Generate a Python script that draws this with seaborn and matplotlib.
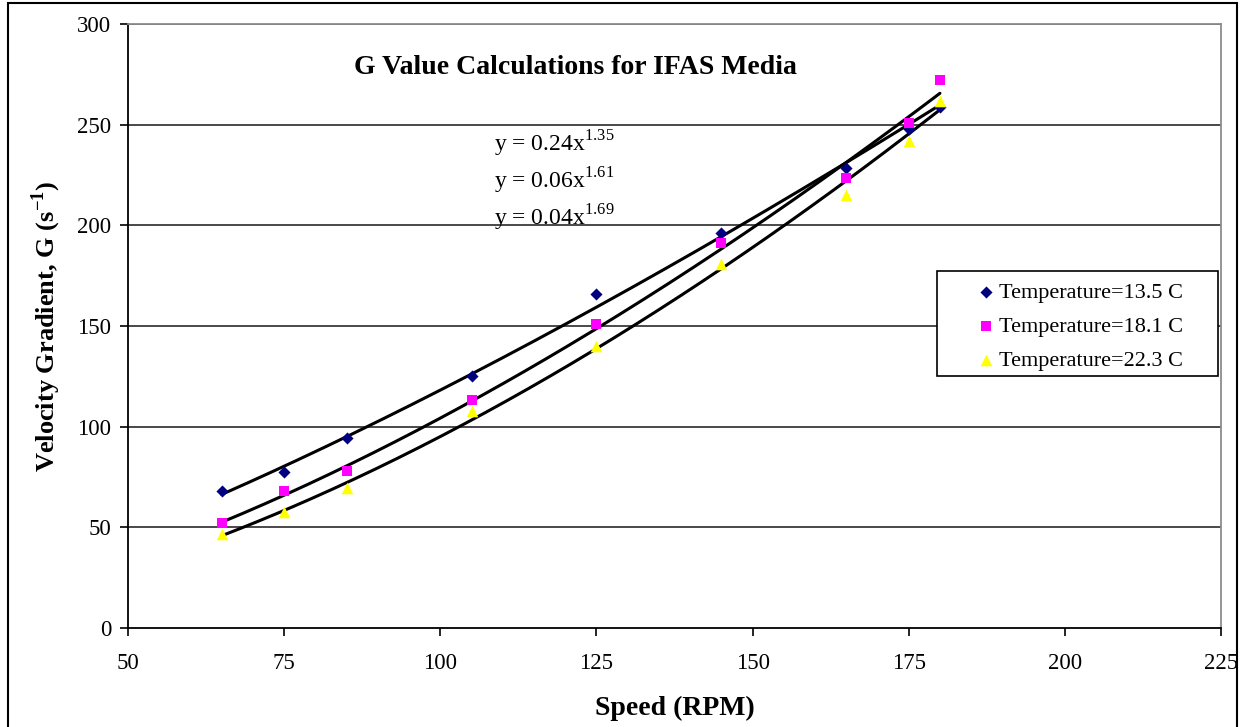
import numpy as np
import pandas as pd
import matplotlib
matplotlib.use("Agg")
import matplotlib.pyplot as plt
import seaborn as sns
from matplotlib.patches import Rectangle

speed = [65, 75, 85, 105, 125, 145, 165, 175, 180]
g_135 = [68, 77.5, 94.5, 125, 166, 196, 228.5, 248, 259]
g_181 = [52, 68, 78, 113, 151, 191, 223.5, 251, 272]
g_223 = [46.5, 57.5, 69.5, 108, 140, 181, 215, 242, 262]
series_names = ["Temperature=13.5 C", "Temperature=18.1 C", "Temperature=22.3 C"]
equations = ["y = 0.24x$^{1.35}$", "y = 0.06x$^{1.61}$", "y = 0.04x$^{1.69}$"]
x_ticks = [50, 75, 100, 125, 150, 175, 200, 225]
y_ticks = [0, 50, 100, 150, 200, 250, 300]

sns.set_theme(style="white")
plt.rcParams['font.family'] = ['Liberation Serif', 'DejaVu Serif']
plt.rcParams['mathtext.fontset'] = 'custom'
plt.rcParams['mathtext.rm'] = 'Liberation Serif'
plt.rcParams['mathtext.bf'] = 'Liberation Serif:bold'
plt.rcParams['text.color'] = 'black'
plt.rcParams['axes.labelcolor'] = 'black'
plt.rcParams['xtick.color'] = 'black'
plt.rcParams['ytick.color'] = 'black'

df = pd.DataFrame({
    "speed": speed * 3,
    "G": g_135 + g_181 + g_223,
    "series": [series_names[0]] * len(speed) + [series_names[1]] * len(speed) + [series_names[2]] * len(speed),
})

fig = plt.figure(figsize=(12.44, 7.27), dpi=100)
ax = fig.add_axes([128/1244, 1-628/727, (1221-128)/1244, (628-24)/727])

palette = {series_names[0]: "#000080", series_names[1]: "#FF00FF", series_names[2]: "#FFFF00"}
markers = {series_names[0]: "D", series_names[1]: "s", series_names[2]: "^"}
sizes = {series_names[0]: 38, series_names[1]: 55, series_names[2]: 70}

for name in series_names:
    sub = df[df.series == name]
    ax.scatter(sub.speed, sub.G, marker=markers[name], color=palette[name],
               s=sizes[name], linewidths=0, zorder=3, label=name)

# power-law trend lines fitted to the data
xs = np.linspace(min(speed), max(speed), 200)
for vals in [g_135, g_181, g_223]:
    b, loga = np.polyfit(np.log(speed), np.log(vals), 1)
    sns.lineplot(x=xs, y=np.exp(loga) * xs ** b, color="black", lw=2.2, ax=ax, zorder=2)

ax.set_xlim(50, 225)
ax.set_ylim(0, 300)
ax.set_xticks(x_ticks)
ax.set_yticks(y_ticks)
ax.set_xticklabels([str(t) for t in x_ticks], fontsize=16.5)
ax.set_yticklabels([str(t) for t in y_ticks], fontsize=16.5)
ax.tick_params(axis="both", direction="out", length=6, width=1.2, color="black", bottom=True, left=True)
ax.tick_params(axis="x", pad=12)
ax.tick_params(axis="y", pad=6)
for yv in y_ticks[1:]:
    ax.axhline(yv, color="#3a3a3a", lw=1.3, zorder=1)
for s in ["left", "bottom"]:
    ax.spines[s].set_color("black")
    ax.spines[s].set_linewidth(1.3)
for s in ["top", "right"]:
    ax.spines[s].set_color("#8c8c8c")
    ax.spines[s].set_linewidth(1.3)

ax.set_xlabel("Speed (RPM)", fontsize=20, fontweight="bold", labelpad=16)
ax.set_ylabel("Velocity Gradient, G (s$^{\\mathbf{-1}}$)", fontsize=19, fontweight="bold", labelpad=10)

fig.text(575/1244, 1-67/727, "G Value Calculations for IFAS Media", fontsize=20,
         fontweight="bold", ha="center", va="center")
for i, eq in enumerate(equations):
    fig.text(494/1244, 1-(144 + 37*i)/727, eq, fontsize=17, ha="left", va="center")

leg = ax.legend(loc="upper left", bbox_to_anchor=((977-128)/1093, (628-282)/604),
                frameon=False, fontsize=16, handletextpad=0.2, borderpad=0,
                labelspacing=0.62, handlelength=0.8, borderaxespad=0)
ax.add_patch(Rectangle(((937-128)/1093, (628-376)/604), (1218-937)/1093, (376-271)/604,
                       transform=ax.transAxes, fill=True, facecolor="white",
                       edgecolor="black", lw=1.2, zorder=4))
leg.set_zorder(5)

fig.patches.append(Rectangle((8/1244, -0.01), (1237-8)/1244, 1-3/727+0.01,
                             transform=fig.transFigure, fill=False, edgecolor="black", lw=1.5))

fig.savefig("out.png", dpi=100)
